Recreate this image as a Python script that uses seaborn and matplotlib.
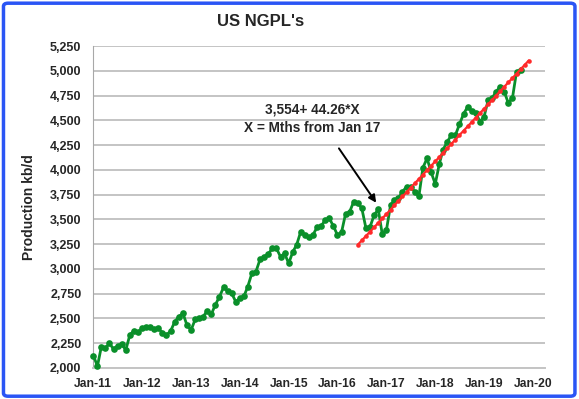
import pandas as pd
import matplotlib
matplotlib.use('Agg')
import matplotlib.pyplot as plt
import matplotlib.dates as mdates
from matplotlib.patches import FancyBboxPatch
from matplotlib.ticker import FuncFormatter
import seaborn as sns

# Monthly NGPL production (kb/d), Jan 2011 onwards
ngpl = [2125, 2020, 2209, 2199, 2249, 2192, 2222, 2239, 2182, 2333, 2376, 2360,
        2400, 2417, 2410, 2390, 2400, 2356, 2333, 2373, 2467, 2518, 2552, 2434,
        2383, 2491, 2501, 2518, 2575, 2542, 2636, 2719, 2814, 2777, 2754, 2669,
        2703, 2726, 2822, 2956, 2972, 3097, 3123, 3150, 3208, 3208, 3123, 3157,
        3056, 3173, 3241, 3375, 3342, 3319, 3342, 3420, 3433, 3493, 3510, 3433,
        3342, 3375, 3554, 3577, 3678, 3668, 3611, 3410, 3426, 3544, 3601, 3349,
        3392, 3645, 3695, 3715, 3779, 3830, 3830, 3779, 3735, 4023, 4116, 3978,
        3857, 4062, 4205, 4283, 4351, 4351, 4459, 4565, 4637, 4596, 4576, 4485,
        4536, 4704, 4721, 4788, 4838, 4788, 4677, 4721, 4990, 5005]
ngpl_start = '2011-01-01'

# Trend line values (3,554 + 44.26*X), Jun 2016 - Dec 2019
trend = [3244, 3288, 3333, 3377, 3421, 3465, 3510, 3554, 3598, 3643, 3687, 3731,
         3775, 3820, 3864, 3908, 3952, 3997, 4041, 4085, 4129, 4174, 4218, 4262,
         4306, 4351, 4395, 4439, 4483, 4528, 4572, 4616, 4661, 4705, 4749, 4793,
         4838, 4882, 4926, 4970, 5015, 5059, 5103]
trend_start = '2016-06-01'

y_ticks = list(range(2000, 5251, 250))
x_tick_years = list(range(2011, 2021))

df = pd.DataFrame({'date': pd.date_range(ngpl_start, periods=len(ngpl), freq='MS'),
                   'value': ngpl})
df_trend = pd.DataFrame({'date': pd.date_range(trend_start, periods=len(trend), freq='MS'),
                         'value': trend})

sns.set_style('white')
plt.rcParams['font.family'] = ['Liberation Sans', 'DejaVu Sans']
plt.rcParams['font.weight'] = 'bold'

fig = plt.figure(figsize=(5.79, 3.99), dpi=100)
ax = fig.add_axes([0.1598, 0.0777, 0.7815, 0.807])

sns.lineplot(data=df, x='date', y='value', ax=ax, color='#0a8f2a', lw=2.0,
             marker='o', markersize=4.8, markeredgewidth=0, zorder=3, clip_on=False)
sns.lineplot(data=df_trend, x='date', y='value', ax=ax, color='#ff2a2a', lw=1.6,
             marker='o', markersize=3.3, markeredgewidth=0, zorder=4)

# axes and grid
ax.set_ylim(2000, 5250)
ax.set_yticks(y_ticks)
ax.yaxis.set_major_formatter(FuncFormatter(lambda v, p: f'{int(v):,}'))
ax.set_xlim(pd.Timestamp('2010-12-26'), pd.Timestamp('2020-04-01'))
ax.set_xticks([pd.Timestamp(f'{y}-01-01') for y in x_tick_years])
ax.xaxis.set_major_formatter(mdates.DateFormatter('%b-%y'))
ax.grid(axis='y', color='#c4c4c4', lw=1.4)
ax.grid(axis='x', visible=False)
for s in ['top', 'right']:
    ax.spines[s].set_visible(False)
ax.spines['left'].set_color('#a8a8a8')
ax.spines['bottom'].set_color('#c4c4c4')
ax.spines['bottom'].set_linewidth(1.4)
ax.tick_params(axis='y', length=4, color='#a8a8a8', labelsize=9, pad=4)
ax.tick_params(axis='x', length=3, color='#a8a8a8', labelsize=8.7, pad=4)
for lab in ax.get_xticklabels() + ax.get_yticklabels():
    lab.set_fontweight('bold')
ax.set_xlabel('')
ax.set_ylabel('Production kb/d', fontsize=10, fontweight='bold', labelpad=10)

# annotation
ax.text(pd.Timestamp('2015-06-24'), 4613, '3,554+ 44.26*X', ha='center', va='center',
        fontsize=9.8, fontweight='bold')
ax.text(pd.Timestamp('2015-06-24'), 4422, 'X = Mths from Jan 17', ha='center', va='center',
        fontsize=9.8, fontweight='bold')
ax.annotate('', xy=(pd.Timestamp('2016-10-28'), 3645),
            xytext=(pd.Timestamp('2015-12-31'), 4240),
            arrowprops=dict(arrowstyle='-|>', color='black', lw=1.4, mutation_scale=11))

fig.text(261 / 579, 1 - 22 / 399, "US NGPL's", ha='center', va='center',
         fontsize=12, fontweight='bold')

# blue chart border
fig.patches.append(FancyBboxPatch((0.006, 0.007), 0.987, 0.985,
                                  boxstyle='round,pad=0,rounding_size=0.008',
                                  transform=fig.transFigure, fill=False,
                                  ec='#2a55f5', lw=2.5))

fig.savefig('out.png', dpi=100)
